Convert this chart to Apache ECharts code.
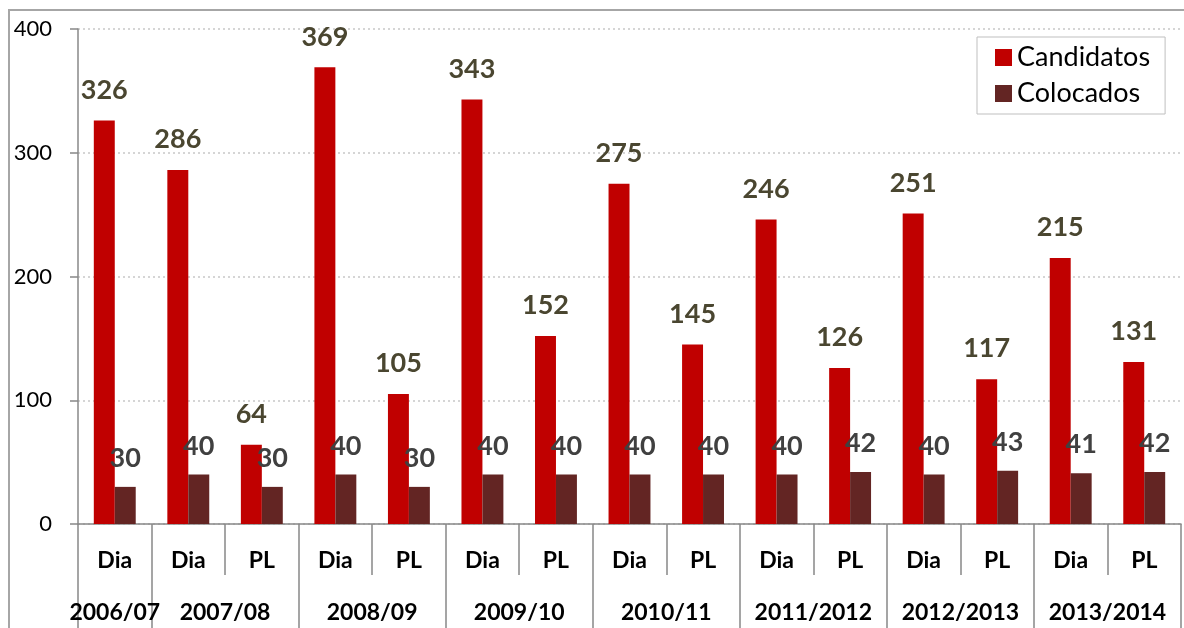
<!DOCTYPE html>
<html>
<head>
<meta charset="utf-8">
<script src="https://cdn.jsdelivr.net/npm/echarts@6/dist/echarts.min.js"></script>
<style>html,body{margin:0;padding:0;background:#fff;}#c{width:1184px;height:628px;}</style>
</head>
<body>
<div id="c"></div>
<script>
const categories = ['Dia','Dia','PL','Dia','PL','Dia','PL','Dia','PL','Dia','PL','Dia','PL','Dia','PL'];
const groups = ['2006/07','2007/08','2008/09','2009/10','2010/11','2011/2012','2012/2013','2013/2014'];
const groupSpans = [1,2,2,2,2,2,2,2];
const candidatos = [326,286,64,369,105,343,152,275,145,246,126,251,117,215,131];
const colocados = [30,40,30,40,30,40,40,40,40,40,42,40,43,41,42];
const yTicks = [0,100,200,300,400];

const font = 'Lato, "Noto Sans", sans-serif';
const groupStarts = [];
const groupCentres = {};
let acc = 0;
groups.forEach((g, i) => { groupStarts.push(acc); groupCentres[Math.round((acc + groupSpans[i] / 2) * 2)] = g; acc += groupSpans[i]; });

const chart = echarts.init(document.getElementById('c'), null, {renderer: 'canvas'});
chart.setOption({
  animation: false,
  backgroundColor: '#fff',
  graphic: [{type: 'rect', shape: {x: 9, y: 10, width: 1300, height: 800}, style: {fill: 'none', stroke: '#a6a6a6', lineWidth: 2}, z: 100}],
  grid: {left: 78, top: 29, width: 1110, height: 495, containLabel: false},
  legend: {
    orient: 'vertical', left: 977, top: 37,
    padding: [7, 15, 7, 18], itemGap: 9,
    itemWidth: 17, itemHeight: 17,
    borderColor: '#bfbfbf', borderWidth: 1,
    textStyle: {fontFamily: font, fontSize: 27, color: '#000'},
    data: [{name: 'Candidatos', icon: 'rect'}, {name: 'Colocados', icon: 'rect'}]
  },
  xAxis: [
    {type: 'category', data: categories, position: 'bottom',
     axisLine: {lineStyle: {color: '#888', width: 1.5}},
     axisTick: {show: true, interval: 0, length: 51, lineStyle: {color: '#888', width: 1.5}},
     axisLabel: {interval: 0, margin: 25, fontFamily: font, fontSize: 23, fontWeight: 'bold', color: '#000'}},
    {type: 'category', data: categories, position: 'bottom',
     axisLine: {show: false},
     axisTick: {show: true, length: 104, interval: (i) => groupStarts.indexOf(i) >= 0, lineStyle: {color: '#888', width: 1.5}},
     axisLabel: {show: false}},
    {type: 'value', min: 0, max: categories.length, interval: 0.5, position: 'bottom',
     axisLine: {show: false}, axisTick: {show: false}, splitLine: {show: false},
     axisLabel: {margin: 77, fontFamily: font, fontSize: 23, fontWeight: 'bold', color: '#000',
       formatter: (v) => groupCentres[Math.round(v * 2)] || ''}}
  ],
  yAxis: {
    type: 'value', min: yTicks[0], max: yTicks[yTicks.length - 1], interval: 100,
    axisLine: {show: true, lineStyle: {color: '#888', width: 1.5}},
    axisTick: {show: true, length: 8, lineStyle: {color: '#888', width: 1.5}},
    axisLabel: {margin: 26, fontFamily: font, fontSize: 22, color: '#000'},
    splitLine: {show: true, lineStyle: {color: '#c8c8c8', type: [2, 3], width: 1.5}}
  },
  series: [
    {name: 'Candidatos', type: 'bar', data: candidatos, barGap: '0%', barCategoryGap: '43%',
     itemStyle: {color: '#C00000'},
     label: {show: true, position: 'top', distance: 17, fontFamily: font, fontSize: 27, fontWeight: 'bold', color: '#4A4630'}},
    {name: 'Colocados', type: 'bar', data: colocados, barGap: '0%', barCategoryGap: '43%',
     itemStyle: {color: '#632523'},
     label: {show: true, position: 'top', distance: 15, fontFamily: font, fontSize: 27, fontWeight: 'bold', color: '#404040'}}
  ]
});
</script>
</body>
</html>
